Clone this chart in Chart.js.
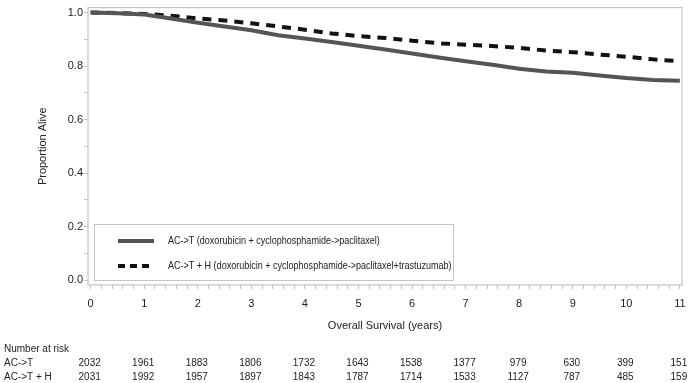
<!DOCTYPE html>
<html>
<head>
<meta charset="utf-8">
<script src="https://cdn.jsdelivr.net/npm/chart.js@4.4.1/dist/chart.umd.min.js"></script>
<style>
  html, body { margin: 0; padding: 0; background: #fff; }
  #wrap { position: relative; width: 700px; height: 383px; }
</style>
</head>
<body>
<div id="wrap"><canvas id="c" width="700" height="383"></canvas></div>
<script>
// ---- data ----
const years = [0, 0.5, 1, 1.5, 2, 2.5, 3, 3.5, 4, 4.5, 5, 5.5, 6, 6.5, 7, 7.5, 8, 8.5, 9, 9.5, 10, 10.5, 11];
const survAC_T = [1.000, 0.997, 0.993, 0.978, 0.962, 0.948, 0.934, 0.915, 0.903, 0.890, 0.876, 0.862, 0.847, 0.832, 0.818, 0.805, 0.790, 0.780, 0.775, 0.765, 0.755, 0.748, 0.745];
const survAC_TH = [1.000, 0.998, 0.995, 0.988, 0.978, 0.970, 0.960, 0.948, 0.936, 0.922, 0.912, 0.905, 0.895, 0.885, 0.880, 0.875, 0.868, 0.858, 0.852, 0.843, 0.835, 0.825, 0.818];
const seriesLabels = [
  "AC->T (doxorubicin + cyclophosphamide->paclitaxel)",
  "AC->T + H (doxorubicin + cyclophosphamide->paclitaxel+trastuzumab)"
];
const xTickValues = [0, 1, 2, 3, 4, 5, 6, 7, 8, 9, 10, 11];
const yTickLabels = ["0.0", "0.2", "0.4", "0.6", "0.8", "1.0"];
const riskTimes = [0, 1, 2, 3, 4, 5, 6, 7, 8, 9, 10, 11];
const riskGroupNames = ["AC->T", "AC->T + H"];
const riskAC_T = [2032, 1961, 1883, 1806, 1732, 1643, 1538, 1377, 979, 630, 399, 151];
const riskAC_TH = [2031, 1992, 1957, 1897, 1843, 1787, 1714, 1533, 1127, 787, 485, 159];
const xTitle = "Overall Survival (years)";
const yTitle = "Proportion Alive";
const riskTitle = "Number at risk";

// ---- styles ----
const FONT = "'Liberation Sans', Arial, sans-serif";
const solidColor = "#555555";
const dashColor = "#111111";
const axisColor = "#c4c4c4";
const textColor = "#222222";

const toXY = (ys) => years.map((x, i) => ({ x: x, y: ys[i] }));

const framePlugin = {
  id: 'frame',
  beforeDatasetsDraw(chart) {
    const { ctx, chartArea: a } = chart;
    ctx.save();
    ctx.strokeStyle = axisColor;
    ctx.lineWidth = 1.2;
    ctx.strokeRect(a.left, a.top, a.right - a.left, a.bottom - a.top);
    ctx.restore();
  }
};

const legendPlugin = {
  id: 'boxLegend',
  afterDatasetsDraw(chart) {
    const { ctx, chartArea: a } = chart;
    const bx = a.left + 6, by = a.bottom - 61, bw = 359, bh = 56;
    ctx.save();
    ctx.fillStyle = '#fff';
    ctx.fillRect(bx, by, bw, bh);
    ctx.strokeStyle = axisColor;
    ctx.lineWidth = 1;
    ctx.strokeRect(bx + 0.5, by + 0.5, bw, bh);
    const rows = [by + 17, by + 42];
    const styles = [
      { color: solidColor, dash: [] },
      { color: dashColor, dash: [7, 5] }
    ];
    rows.forEach((ry, i) => {
      ctx.beginPath();
      ctx.setLineDash(styles[i].dash);
      ctx.strokeStyle = styles[i].color;
      ctx.lineWidth = 4;
      ctx.moveTo(bx + 24, ry);
      ctx.lineTo(bx + 60, ry);
      ctx.stroke();
      ctx.setLineDash([]);
      ctx.save();
      ctx.translate(bx + 74, ry);
      ctx.scale(0.82, 1);
      ctx.fillStyle = textColor;
      ctx.font = "11px " + FONT;
      ctx.textBaseline = 'middle';
      ctx.textAlign = 'left';
      ctx.fillText(seriesLabels[i], 0, 0);
      ctx.restore();
    });
    ctx.restore();
  }
};

const riskPlugin = {
  id: 'riskTable',
  afterDraw(chart) {
    const { ctx } = chart;
    const xs = chart.scales.x;
    ctx.save();
    ctx.fillStyle = textColor;
    ctx.font = "10px " + FONT;
    ctx.textBaseline = 'middle';
    ctx.textAlign = 'left';
    ctx.fillText(riskTitle, 4, 349);
    ctx.fillText(riskGroupNames[0], 4, 363);
    ctx.fillText(riskGroupNames[1], 4, 377);
    ctx.textAlign = 'center';
    riskTimes.forEach((t, i) => {
      const px = xs.getPixelForValue(t) - 1;
      ctx.fillText(String(riskAC_T[i]), px, 363);
      ctx.fillText(String(riskAC_TH[i]), px, 377);
    });
    ctx.restore();
  }
};

const xMinor = [];
for (let i = 0; i <= 55; i++) xMinor.push(Math.round(i * 0.2 * 10) / 10);
const yMinor = [];
for (let i = 0; i <= 10; i++) yMinor.push(Math.round(i * 0.1 * 10) / 10);

new Chart(document.getElementById('c'), {
  type: 'line',
  data: {
    datasets: [
      {
        label: seriesLabels[0],
        data: toXY(survAC_T),
        borderColor: solidColor,
        borderWidth: 4,
        pointRadius: 0,
        tension: 0,
        fill: false
      },
      {
        label: seriesLabels[1],
        data: toXY(survAC_TH),
        borderColor: dashColor,
        borderWidth: 4,
        borderDash: [9, 7],
        pointRadius: 0,
        tension: 0,
        fill: false
      }
    ]
  },
  options: {
    responsive: false,
    animation: false,
    layout: { padding: { left: 0, right: 18, top: 5, bottom: 0 } },
    plugins: { legend: { display: false }, tooltip: { enabled: false } },
    scales: {
      x: {
        type: 'linear',
        min: -0.05,
        max: 11.04,
        afterBuildTicks(scale) { scale.ticks = xMinor.map(v => ({ value: v })); },
        afterFit(scale) { scale.height = 98; },
        grid: { drawOnChartArea: false, drawTicks: true, tickLength: 4, color: axisColor, tickColor: axisColor },
        border: { display: false },
        ticks: {
          autoSkip: false,
          maxRotation: 0,
          padding: 8,
          color: textColor,
          font: { family: FONT, size: 11 },
          callback: (v) => (xTickValues.includes(v) ? String(v) : '')
        },
        title: {
          display: true,
          text: xTitle,
          color: textColor,
          font: { family: FONT, size: 11 },
          padding: { top: 0, bottom: 50 }
        }
      },
      y: {
        type: 'linear',
        min: -0.0185,
        max: 1.0185,
        afterBuildTicks(scale) { scale.ticks = yMinor.map(v => ({ value: v })); },
        afterFit(scale) { scale.width = 88; },
        grid: { drawOnChartArea: false, drawTicks: true, tickLength: 4, color: axisColor, tickColor: axisColor },
        border: { display: false },
        ticks: {
          autoSkip: false,
          padding: 1,
          color: textColor,
          font: { family: FONT, size: 11 },
          callback: (v) => {
            const idx = yTickLabels.indexOf(Number(v).toFixed(1));
            return (Math.round(v * 10) % 2 === 0 && idx >= 0) ? yTickLabels[idx] : '';
          }
        },
        title: {
          display: true,
          text: yTitle,
          color: textColor,
          font: { family: FONT, size: 11 },
          padding: { top: 36, bottom: 0 }
        }
      }
    }
  },
  plugins: [framePlugin, legendPlugin, riskPlugin]
});
</script>
</body>
</html>
